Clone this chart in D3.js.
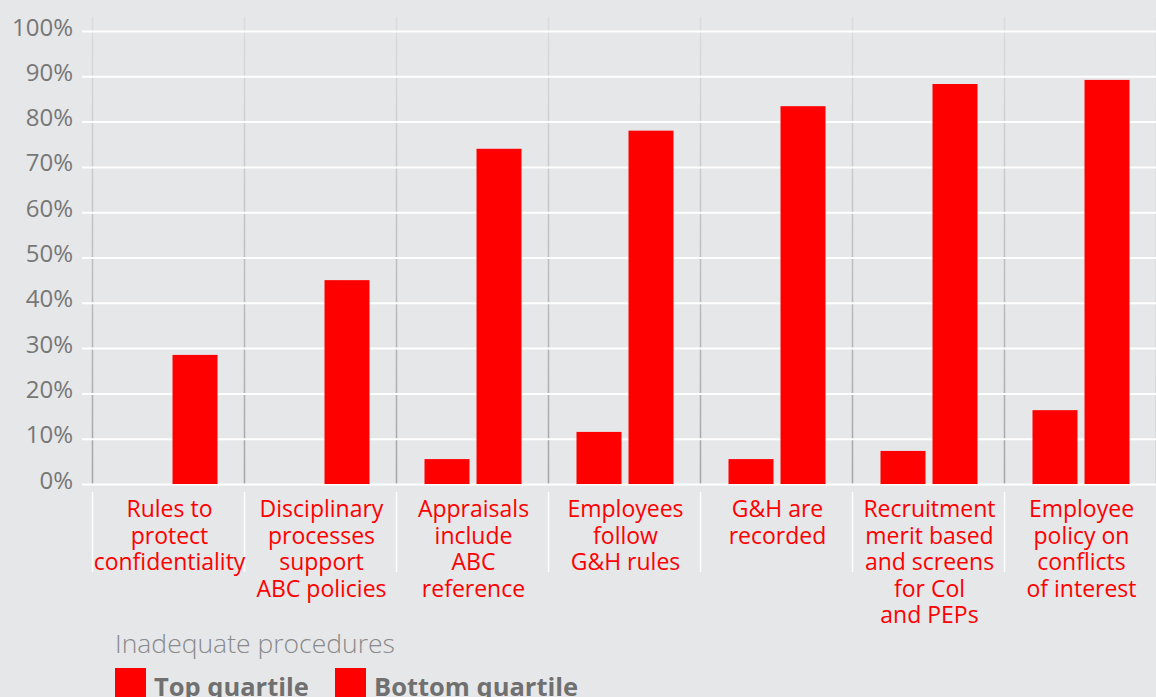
<!DOCTYPE html>
<html>
<head>
<meta charset="utf-8">
<script src="https://cdn.jsdelivr.net/npm/d3@7/dist/d3.min.js"></script>
<style>
  html, body { margin: 0; padding: 0; background: #e6e7e9; }
  svg { display: block; }
  text { font-family: "Open Sans", "Noto Sans", sans-serif; }
</style>
</head>
<body>
<svg id="chart" width="1156" height="697"></svg>
<script>
// Categories (label lines) and share of firms with inadequate procedures
const categories = [
  ["Rules to", "protect", "confidentiality"],
  ["Disciplinary", "processes", "support", "ABC policies"],
  ["Appraisals", "include", "ABC", "reference"],
  ["Employees", "follow", "G&H rules"],
  ["G&H are", "recorded"],
  ["Recruitment", "merit based", "and screens", "for Col", "and PEPs"],
  ["Employee", "policy on", "conflicts", "of interest"]
];
const seriesNames = ["Top quartile", "Bottom quartile"];
const topQuartile    = [0, 0, 5.5, 11.5, 5.5, 7.3, 16.3];
const bottomQuartile = [28.5, 45, 74, 78, 83.4, 88.3, 89.2];
const yTicks = [0, 10, 20, 30, 40, 50, 60, 70, 80, 90, 100];
const legendTitle = "Inadequate procedures";

const svg = d3.select("#chart");
const W = 1156;
const plotLeft = 92.5, plotRight = 1156.5, plotTop = 31, plotBottom = 484;

const keys = categories.map((c, i) => i);
const x0 = d3.scaleBand().domain(keys).range([plotLeft, plotRight]);
const x1 = d3.scaleBand().domain(seriesNames).range([28, 125]).paddingInner(0.135);
const y = d3.scaleLinear().domain([0, 100]).range([plotBottom, plotTop]);

// Vertical separators fading toward the top
const defs = svg.append("defs");
const grad = defs.append("linearGradient")
  .attr("id", "sepGrad").attr("gradientUnits", "userSpaceOnUse")
  .attr("x1", 0).attr("x2", 0).attr("y1", 17).attr("y2", plotBottom);
grad.append("stop").attr("offset", "0%").attr("stop-color", "#dcdcde");
grad.append("stop").attr("offset", "100%").attr("stop-color", "#a4a4a6");

const sepXs = keys.map(k => x0(k)).concat([plotRight]);
svg.append("g").selectAll("line").data(sepXs).join("line")
  .attr("x1", d => d).attr("x2", d => d)
  .attr("y1", 17).attr("y2", plotBottom)
  .attr("stroke", "url(#sepGrad)").attr("stroke-width", 1.5);

// White separators under the baseline, between the labels
svg.append("g").selectAll("line").data(sepXs.slice(0, 7)).join("line")
  .attr("x1", d => d).attr("x2", d => d)
  .attr("y1", 492).attr("y2", 572)
  .attr("stroke", "#ffffff").attr("stroke-width", 1.5);

// Y axis with horizontal gridlines
const yAxis = d3.axisLeft(y)
  .tickValues(yTicks)
  .tickFormat(d => d + "%")
  .tickSizeInner(-(W - 82))
  .tickSizeOuter(0)
  .tickPadding(9);
const gy = svg.append("g").attr("transform", "translate(82,0)").call(yAxis);
gy.select(".domain").remove();
gy.selectAll(".tick line").attr("stroke", "#ffffff").attr("stroke-width", 2);
gy.selectAll(".tick text")
  .attr("fill", "#777777")
  .attr("font-size", 24)
  .attr("dy", 4)
  .attr("font-family", "'Open Sans', sans-serif");

// Bars
const rows = keys.map(i => ({ i, values: [
  { key: seriesNames[0], value: topQuartile[i] },
  { key: seriesNames[1], value: bottomQuartile[i] }
]}));
svg.append("g").selectAll("g").data(rows).join("g")
  .attr("transform", d => `translate(${x0(d.i)},0)`)
  .selectAll("rect").data(d => d.values.filter(v => v.value > 0)).join("rect")
  .attr("x", d => x1(d.key))
  .attr("width", x1.bandwidth())
  .attr("y", d => y(d.value))
  .attr("height", d => y(0) - y(d.value))
  .attr("fill", "#ff0000");

// Category labels, one text per line
const lab = svg.append("g").selectAll("g").data(rows).join("g");
lab.selectAll("text").data(d => categories[d.i].map(t => ({ t, cx: x0(d.i) + x0.bandwidth() / 2 }))).join("text")
  .attr("x", d => d.cx + 1)
  .attr("y", (d, j) => 517 + j * 26.5)
  .attr("text-anchor", "middle")
  .attr("fill", "#ff0000")
  .attr("font-size", 23)
  .text(d => d.t);

// Legend
svg.append("text")
  .attr("x", 115).attr("y", 653)
  .attr("fill", "#8a8a8c")
  .attr("font-size", 26.5)
  .attr("font-weight", 300)
  .text(legendTitle);

const legendX = [115, 335];
const lg = svg.append("g").selectAll("g").data(seriesNames).join("g")
  .attr("transform", (d, i) => `translate(${legendX[i]},668)`);
lg.append("rect").attr("width", 31).attr("height", 31).attr("fill", "#ff0000");
lg.append("text")
  .attr("x", 39).attr("y", 28)
  .attr("fill", "#707070")
  .attr("font-size", 25.5)
  .attr("font-weight", 700)
  .text(d => d);
</script>
</body>
</html>
